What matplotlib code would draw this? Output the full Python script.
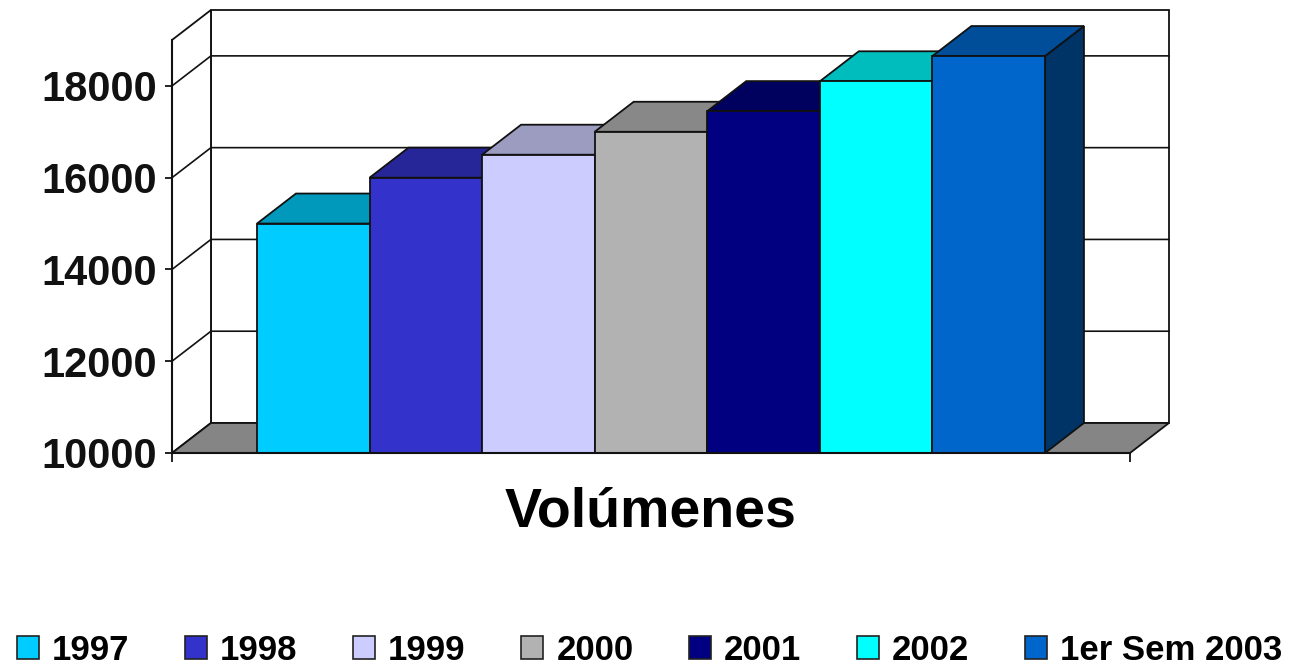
import matplotlib.pyplot as plt
from matplotlib.patches import Patch, Polygon, Rectangle

plt.rcParams['font.family'] = ['Liberation Sans', 'DejaVu Sans']
plt.rcParams['font.weight'] = 'bold'

# data
years = ["1997", "1998", "1999", "2000", "2001", "2002", "1er Sem 2003"]
volumes = [15000, 16000, 16500, 17000, 17450, 18100, 18650]
category = "Volúmenes"
y_ticks = [10000, 12000, 14000, 16000, 18000]

front_colors = ["#00CCFF", "#3333CC", "#CCCCFF", "#B2B2B2", "#000080", "#00FFFF", "#0066CC"]
top_colors = ["#0099BB", "#262699", "#9C9CC0", "#888888", "#00005E", "#00BDBD", "#004E9A"]
side_colors = ["#007799", "#1F1F80", "#8080A0", "#707070", "#00004A", "#009999", "#003366"]

ymin, ymax = 10000, 19000
xmin, xmax = -1.255, 7.255
dx, dy = 0.346, 654  # depth of the 3d box in data units

fig = plt.figure(figsize=(12.95, 6.67), dpi=100)
ax = fig.add_axes([172 / 1295, 1 - 453 / 667, 958 / 1295, 413 / 667])
ax.set_xlim(xmin, xmax)
ax.set_ylim(ymin, ymax)
ax.patch.set_visible(False)

edge = "#111111"

# walls
back = Rectangle((xmin + dx, ymin + dy), xmax - xmin, ymax - ymin, facecolor="white",
                 edgecolor=edge, lw=1.3, clip_on=False, zorder=1)
ax.add_patch(back)
left = Polygon([(xmin, ymin), (xmin + dx, ymin + dy), (xmin + dx, ymax + dy), (xmin, ymax)],
               closed=True, facecolor="white", edgecolor=edge, lw=1.3, clip_on=False, zorder=1)
ax.add_patch(left)
for t in y_ticks[1:]:
    ax.plot([xmin, xmin + dx, xmax + dx], [t, t + dy, t + dy], color=edge, lw=1.2,
            clip_on=False, zorder=2)

# floor
floor = Polygon([(xmin, ymin), (xmax, ymin), (xmax + dx, ymin + dy), (xmin + dx, ymin + dy)],
                closed=True, facecolor="#858585", edgecolor=edge, lw=1.3, clip_on=False, zorder=3)
ax.add_patch(floor)

# bars, left to right so each one hides the side of the previous
for i, v in enumerate(volumes):
    z = 4 + i
    x0, x1 = i - 0.5, i + 0.5
    side = Polygon([(x1, ymin), (x1 + dx, ymin + dy), (x1 + dx, v + dy), (x1, v)], closed=True,
                   facecolor=side_colors[i], edgecolor=edge, lw=1.3, clip_on=False, zorder=z)
    top = Polygon([(x0, v), (x1, v), (x1 + dx, v + dy), (x0 + dx, v + dy)], closed=True,
                  facecolor=top_colors[i], edgecolor=edge, lw=1.3, clip_on=False, zorder=z)
    front = Rectangle((x0, ymin), 1, v - ymin, facecolor=front_colors[i], edgecolor=edge,
                      lw=1.3, clip_on=False, zorder=z)
    ax.add_patch(side)
    ax.add_patch(top)
    ax.add_patch(front)

# axes
for s in ["top", "right"]:
    ax.spines[s].set_visible(False)
for s in ["left", "bottom"]:
    ax.spines[s].set_linewidth(1.5)
    ax.spines[s].set_color(edge)
    ax.spines[s].set_zorder(20)

ax.set_yticks(y_ticks)
ax.set_yticklabels([str(t) for t in y_ticks])
ax.tick_params(axis="y", direction="out", length=5, width=1.3, pad=6, labelsize=30, colors=edge)
ax.set_xticks([3])
ax.set_xticklabels([category])
ax.tick_params(axis="x", which="major", length=0, pad=24, labelsize=40)
ax.set_xticks([xmin, xmax], minor=True)
ax.tick_params(axis="x", which="minor", direction="out", length=6.5, width=1.3, colors=edge)

handles = [Patch(facecolor=c, edgecolor="#222222", lw=1.2) for c in front_colors]
fig.legend(handles, years, loc="center", bbox_to_anchor=(649.5 / 1295, 1 - 650 / 667),
           ncol=7, frameon=False, fontsize=25, handlelength=0.634, handleheight=0.634,
           handletextpad=0.375, columnspacing=1.6, borderpad=0, borderaxespad=0)

fig.savefig("out.png", dpi=100)
